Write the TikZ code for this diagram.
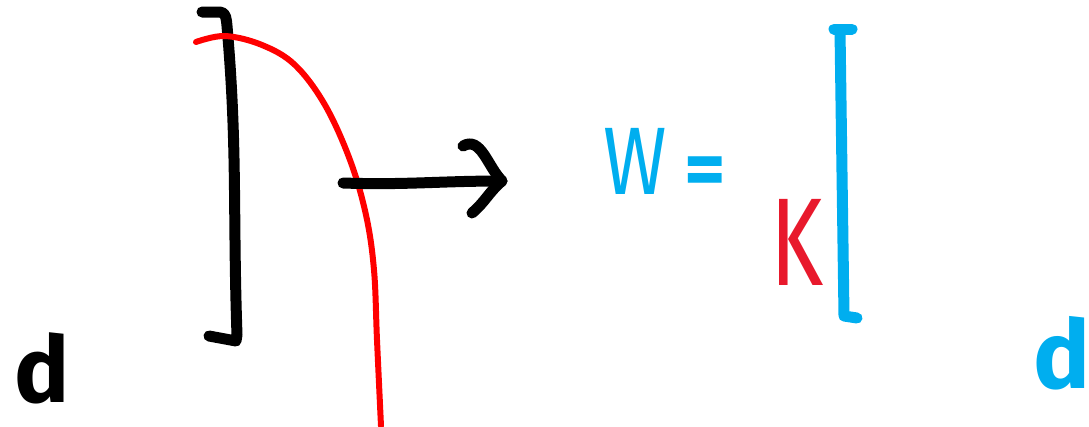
\documentclass[tikz,border=0pt]{standalone}
\usepackage{fontspec}
\setmainfont{Fira Sans}
\usepackage{xcolor}
\usetikzlibrary{positioning}
\definecolor{inkblue}{HTML}{00AEEF}
\definecolor{inkred}{HTML}{FF0000}
\definecolor{kred}{HTML}{E8192C}

\begin{document}
\begin{tikzpicture}[
  x=1pt, y=-1pt,
  ink/.style={line width=11pt, line cap=round, line join=round},
  curve/.style={draw=inkred, line width=6pt, line cap=round},
  letter/.style={inner sep=0pt, anchor=base west}]

\useasboundingbox (0,0) rectangle (1089,426);

% black bracket
\draw[ink] (202,12) -- (220,12) to[out=0,in=95] (227,26)
  to[out=-85,in=92] (237,335) -- (236,341) -- (209,336);

% red profile
\draw[curve] plot[smooth, tension=0.6] coordinates {
  (196,42) (225,36) (262,45) (295,65) (325,105) (350,160)
  (366,215) (374,270) (377,340) (381,426)};

% arrow
\coordinate (tail) at (343,183);
\coordinate (head) at (502,181);
\draw[ink] (tail) to[out=-2,in=180] (head);
\draw[ink] (463,146) to[out=30,in=135] (head)
  to[out=-140,in=40] (472,213);

% blue bracket
\draw[ink, draw=inkblue] (834,29) -- (852,29);
\draw[ink, draw=inkblue] (840,30) -- (844,316) -- (857,318);

% letters
\node[letter, font=\fontsize{92}{92}\selectfont\bfseries] (dl) at (14,402) {d};
\node[letter, font=\fontsize{96}{96}\selectfont, text=inkblue, xscale=0.8] (w) at (603,194) {W};
\node[letter, font=\fontsize{80}{80}\selectfont\bfseries, text=inkblue] (eq) at (684,196) {=};
\node[letter, font=\fontsize{125}{125}\selectfont, text=kred, xscale=0.72] (k) at (770,285) {K};
\node[letter, font=\fontsize{95}{95}\selectfont\bfseries, text=inkblue] (dr) at (1033,388) {d};
\end{tikzpicture}
\end{document}
